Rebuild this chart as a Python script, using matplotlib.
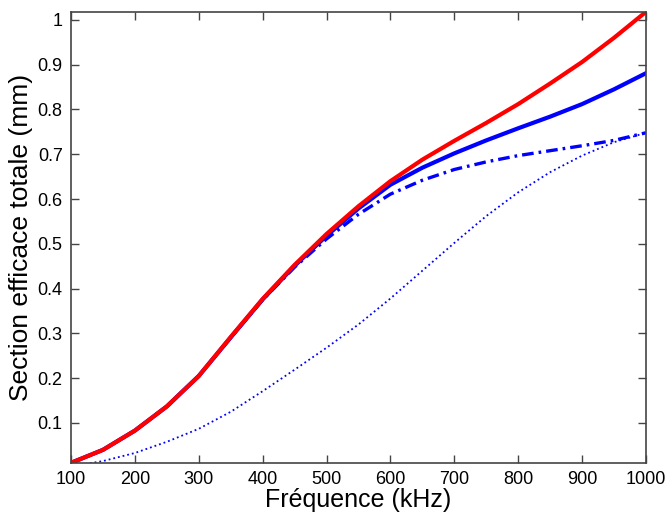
import matplotlib.pyplot as plt

plt.rcParams['font.family'] = ['Liberation Sans', 'DejaVu Sans']

freq = [100, 150, 200, 250, 300, 350, 400, 450, 500, 550, 600, 650, 700, 750, 800, 850, 900, 950, 1000]

# total cross-section curves (mm)
red_solid = [0.011, 0.040, 0.083, 0.137, 0.205, 0.292, 0.377, 0.453, 0.522, 0.584, 0.640, 0.688, 0.730,
             0.770, 0.812, 0.858, 0.906, 0.960, 1.018]
blue_solid = [0.011, 0.040, 0.083, 0.137, 0.205, 0.291, 0.376, 0.451, 0.518, 0.579, 0.632, 0.670, 0.702,
              0.731, 0.758, 0.784, 0.812, 0.845, 0.881]
blue_dashdot = [0.011, 0.040, 0.083, 0.137, 0.205, 0.291, 0.375, 0.448, 0.511, 0.566, 0.611, 0.642, 0.666,
                0.683, 0.697, 0.708, 0.719, 0.731, 0.748]
blue_dotted = [0.003, 0.015, 0.033, 0.058, 0.087, 0.125, 0.171, 0.219, 0.268, 0.320, 0.378, 0.440, 0.502,
               0.562, 0.615, 0.660, 0.697, 0.727, 0.748]

fig = plt.figure(figsize=(6.68, 5.15), dpi=100)
ax = fig.add_axes([0.1063, 0.101, 0.8607, 0.876])

ax.plot(freq, blue_dotted, color='#0000ff', linestyle=':', linewidth=1.3)
ax.plot(freq, blue_dashdot, color='#0000ff', linestyle=(0, (3.5, 1.5, 0.8, 1.5)), linewidth=2.4)
ax.plot(freq, blue_solid, color='#0000ff', linestyle='-', linewidth=3.0)
ax.plot(freq, red_solid, color='#ff0000', linestyle='-', linewidth=3.0)

ax.set_xlim(100, 1000)
ax.set_ylim(0.0107, 1.018)
ax.set_xticks(range(100, 1001, 100))
ax.set_yticks([0.1, 0.2, 0.3, 0.4, 0.5, 0.6, 0.7, 0.8, 0.9, 1.0])
ax.set_yticklabels(['0.1', '0.2', '0.3', '0.4', '0.5', '0.6', '0.7', '0.8', '0.9', '1'])

ax.tick_params(direction='in', length=6, width=1, colors='#444444', labelcolor='black',
               labelsize=13, top=True, right=True, pad=6)
for s in ax.spines.values():
    s.set_color('#444444')
    s.set_linewidth(1.2)

ax.set_xlabel('Fréquence (kHz)', fontsize=18, labelpad=0)
ax.set_ylabel('Section efficace totale (mm)', fontsize=19, labelpad=3)

fig.savefig('out.png', dpi=100)
plt.close(fig)
